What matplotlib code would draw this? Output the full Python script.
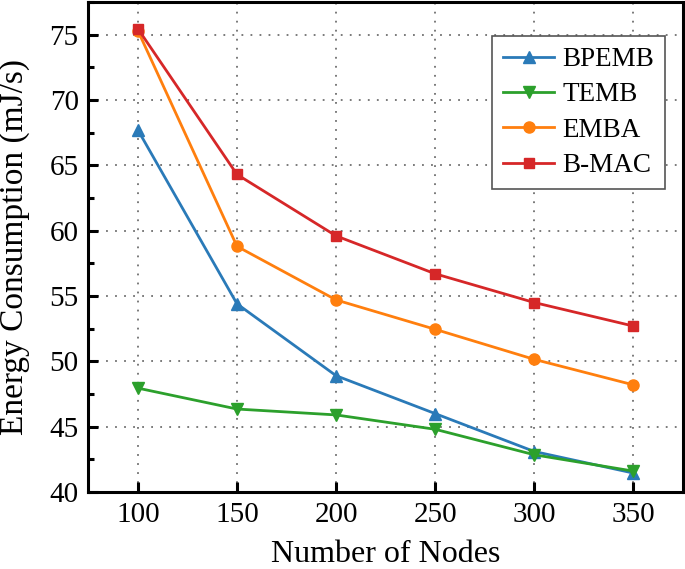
import matplotlib
matplotlib.use('Agg')
import matplotlib.pyplot as plt
from matplotlib.ticker import MultipleLocator

plt.rcParams['font.family'] = 'Liberation Serif'

nodes = [100, 150, 200, 250, 300, 350]
bpemb = [67.7, 54.4, 48.9, 46.0, 43.1, 41.45]
temb = [47.95, 46.35, 45.9, 44.8, 42.85, 41.6]
emba = [75.3, 58.8, 54.7, 52.45, 50.15, 48.2]
bmac = [75.45, 64.3, 59.6, 56.7, 54.5, 52.7]

fig = plt.figure(figsize=(6.85, 5.69), dpi=100)
ax = fig.add_axes([0.129, 0.1353, 0.868, 0.8612])

ax.plot(nodes, bpemb, color='#2a7ab8', marker='^', ms=8, lw=2, label='BPEMB')
ax.plot(nodes, temb, color='#2ca02c', marker='v', ms=8, lw=2, label='TEMB')
ax.plot(nodes, emba, color='#ff7f0e', marker='o', ms=8, lw=2, label='EMBA')
ax.plot(nodes, bmac, color='#d62728', marker='s', ms=7, lw=2, label='B-MAC')

ax.set_xlim(75, 375)
ax.set_ylim(40, 77.5)
ax.xaxis.set_major_locator(MultipleLocator(50))
ax.yaxis.set_major_locator(MultipleLocator(5))
ax.yaxis.set_minor_locator(MultipleLocator(2.5))
ax.grid(True, which='major', linestyle=(0, (1, 4)), color='#707070', lw=1.3)

for s in ax.spines.values():
    s.set_linewidth(2.2)
ax.tick_params(which='major', direction='in', length=7, width=2.2, labelsize=21, pad=7)
ax.tick_params(which='minor', direction='in', length=4.5, width=2.2)

ax.set_xlabel('Number of Nodes', fontsize=23, labelpad=9)
ax.set_ylabel('Energy Consumption (mJ/s)', fontsize=24)
ax.yaxis.set_label_coords(-0.098, 0.5)

leg = ax.legend(loc='upper right', fontsize=19.5, fancybox=False, framealpha=1,
                edgecolor='#555555', handlelength=1.9, handletextpad=0.3,
                labelspacing=0.38, borderpad=0.4, borderaxespad=0,
                bbox_to_anchor=(0.97, 0.93))
leg.get_frame().set_linewidth(1.2)

fig.savefig('out.png', dpi=100)
